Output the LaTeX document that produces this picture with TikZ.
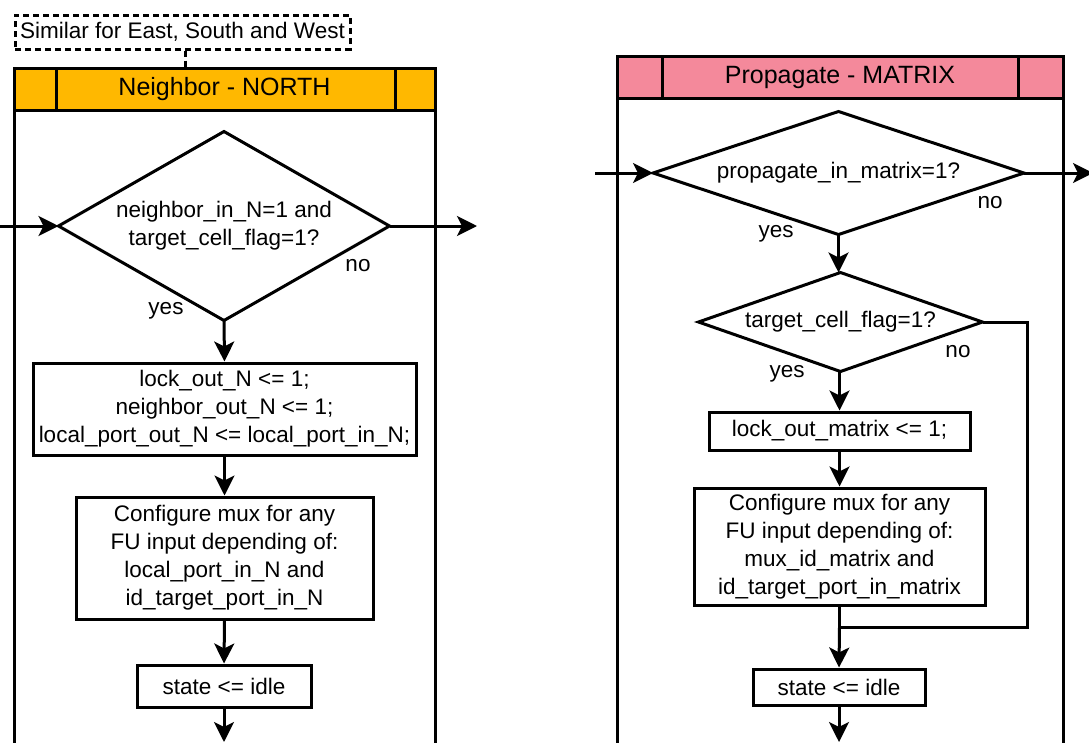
\documentclass[tikz,border=0pt]{standalone}
\usepackage{fontspec}
\setmainfont{Liberation Sans}
\usetikzlibrary{arrows.meta}
\definecolor{hdrorange}{RGB}{255,184,0}
\definecolor{hdrpink}{RGB}{244,137,155}
\begin{document}
\begin{tikzpicture}[x=1pt,y=-1pt,line width=3pt,
  every node/.style={font=\fontsize{22.5}{28}\selectfont},
  flow/.style={-{Stealth[length=20pt,width=20pt,inset=5pt]}},
  stepbox/.style={draw,rectangle,align=center,inner sep=0pt},
  decision/.style={rectangle,align=center,inner sep=0pt,
    append after command={\pgfextra{\let\decnode\tikzlastnode}
      (\decnode.west) -- (\decnode.north) -- (\decnode.east) -- (\decnode.south) -- cycle}},
  header/.style={draw,rectangle,inner sep=0pt,font=\fontsize{25}{30}\selectfont},
  lbl/.style={inner sep=0pt}]
\useasboundingbox (0,0) rectangle (1089,742);

% ---------------- Neighbor - NORTH ----------------
\draw (14,745) -- (14,68) -- (435,68) -- (435,745);
\node[header,fill=hdrorange,minimum width=421pt,minimum height=42pt] (hN) at (224.5,89) {Neighbor - NORTH};
\draw (56,68) -- (56,110);
\draw (395,68) -- (395,110);

\node[stepbox,dashed,dash pattern=on 6pt off 4pt,minimum width=335pt,minimum height=34pt] (note) at (182.5,32) {Similar for East, South and West};
\draw[dashed,dash pattern=on 6pt off 4pt] (note.south) ++(3,0) coordinate (noteb) -- (noteb |- hN.north);

\draw node[decision,minimum width=328pt,minimum height=186pt] (dN) at (224,226) {neighbor\_in\_N=1 and\\target\_cell\_flag=1?};
\node[stepbox,minimum width=383pt,minimum height=92pt] (bN1) at (224.5,409) {lock\_out\_N <= 1;\\neighbor\_out\_N <= 1;\\local\_port\_out\_N <= local\_port\_in\_N;};
\node[stepbox,minimum width=297pt,minimum height=122pt] (bN2) at (224.5,558) {Configure mux for any\\FU input depending of:\\local\_port\_in\_N and\\id\_target\_port\_in\_N};
\node[stepbox,minimum width=174pt,minimum height=42pt] (bN3) at (224,686) {state <= idle};

\coordinate (inN) at (0,226);
\coordinate (outN) at (477,226);
\coordinate (endN) at (224,742);
\draw[flow] (inN) -- (dN.west);
\draw[flow] (dN.east) -- (outN);
\draw[flow] (dN.south) -- (bN1.north);
\draw[flow] (bN1.south) -- (bN2.north);
\draw[flow] (bN2.south) -- (bN3.north);
\draw[flow] (bN3.south) -- (endN);
\node[lbl] at (358,266) {no};
\node[lbl] at (166,311) {yes};

% ---------------- Propagate - MATRIX ----------------
\draw (617,745) -- (617,56) -- (1063,56) -- (1063,745);
\node[header,fill=hdrpink,minimum width=446pt,minimum height=42pt] (hM) at (840,77) {Propagate - MATRIX};
\draw (662,56) -- (662,98);
\draw (1018,56) -- (1018,98);

\draw node[decision,minimum width=368pt,minimum height=120pt] (dM1) at (838.5,173) {propagate\_in\_matrix=1?};
\draw node[decision,minimum width=281pt,minimum height=96pt] (dM2) at (840.5,322) {target\_cell\_flag=1?};
\node[stepbox,minimum width=261pt,minimum height=38pt] (bM1) at (839.5,431) {lock\_out\_matrix <= 1;};
\node[stepbox,minimum width=291pt,minimum height=117pt] (bM2) at (839.5,546.5) {Configure mux for any\\FU input depending of:\\mux\_id\_matrix and\\id\_target\_port\_in\_matrix};
\node[stepbox,minimum width=172pt,minimum height=36pt] (bM3) at (839,687) {state <= idle};

\coordinate (inM) at (595,173);
\coordinate (outM) at (1093,173);
\coordinate (join) at (bM2.south |- 0,627);
\coordinate (bypass) at (1027,322);
\coordinate (endM) at (bM3.south |- 0,742);
\draw[flow] (inM) -- (dM1.west);
\draw[flow] (dM1.east) -- (outM);
\draw[flow] (dM1.south) -- (dM1.south |- dM2.north);
\draw[flow] (dM2.south -| bM1.north) -- (bM1.north);
\draw[flow] (bM1.south) -- (bM2.north);
\draw (bM2.south) -- (join);
\draw[flow] (join) -- (bM3.north);
\draw (dM2.east) -- (bypass) -- (bypass |- join) -- (join);
\draw[flow] (bM3.south) -- (endM);
\node[lbl] at (990,203) {no};
\node[lbl] at (776,234) {yes};
\node[lbl] at (958,352) {no};
\node[lbl] at (787,374) {yes};
\end{tikzpicture}
\end{document}
